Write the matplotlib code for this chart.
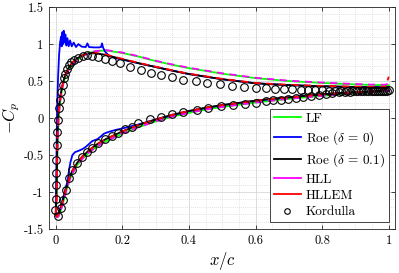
import numpy as np
import matplotlib
matplotlib.use("Agg")
import matplotlib.pyplot as plt
from matplotlib.lines import Line2D
from matplotlib.ticker import MultipleLocator

plt.rcParams['mathtext.fontset'] = 'cm'
plt.rcParams['font.family'] = 'serif'
plt.rcParams['font.serif'] = ['cmr10', 'DejaVu Serif']
plt.rcParams['axes.unicode_minus'] = False

# ---- data (x/c, -Cp) ----
# upper surface, numerical solutions
x_up = [0.0, 0.002, 0.004, 0.005, 0.007, 0.010, 0.014, 0.018, 0.023, 0.030,
        0.040, 0.050, 0.065, 0.080, 0.100, 0.120, 0.150, 0.200, 0.250, 0.300,
        0.350, 0.400, 0.500, 0.600, 0.700, 0.800, 0.900, 0.950, 0.990, 1.000]
lf_up = [-1.30, -1.15, -0.75, -0.45, -0.15, 0.08, 0.24, 0.36, 0.47, 0.57,
         0.66, 0.72, 0.79, 0.84, 0.88, 0.905, 0.915, 0.88, 0.83, 0.77,
         0.72, 0.675, 0.60, 0.54, 0.50, 0.475, 0.455, 0.448, 0.445, 0.445]
hll_up = [-1.30, -1.15, -0.75, -0.45, -0.15, 0.08, 0.24, 0.36, 0.47, 0.57,
          0.66, 0.72, 0.79, 0.84, 0.88, 0.905, 0.92, 0.885, 0.835, 0.775,
          0.725, 0.68, 0.605, 0.545, 0.505, 0.48, 0.46, 0.452, 0.45, 0.47]
roe1_up = [-1.30, -1.10, -0.60, -0.25, 0.0, 0.16, 0.30, 0.40, 0.50, 0.60,
           0.69, 0.75, 0.81, 0.85, 0.875, 0.875, 0.855, 0.795, 0.74, 0.69,
           0.64, 0.595, 0.525, 0.47, 0.445, 0.43, 0.42, 0.415, 0.415, 0.42]
hllem_up = [-1.30, -1.10, -0.60, -0.25, 0.0, 0.16, 0.30, 0.40, 0.50, 0.60,
            0.69, 0.75, 0.81, 0.85, 0.88, 0.88, 0.86, 0.80, 0.745, 0.695,
            0.645, 0.60, 0.53, 0.475, 0.45, 0.435, 0.425, 0.42, 0.42, 0.56]

# Roe (delta = 0) has wiggles near the leading edge
x_roe0_up = [0.0, 0.002, 0.004, 0.007, 0.010, 0.013, 0.016, 0.018, 0.020, 0.022,
             0.024, 0.026, 0.029, 0.032, 0.035, 0.039, 0.043, 0.048, 0.054, 0.061,
             0.068, 0.078, 0.090, 0.095, 0.100, 0.115, 0.130, 0.136, 0.139, 0.142,
             0.148, 0.160, 0.180, 0.200, 0.250, 0.300, 0.400, 0.500, 0.600, 0.700,
             0.800, 0.900, 1.000]
roe0_up = [-1.30, -0.60, 0.10, 0.55, 0.85, 1.02, 1.10, 0.97, 1.16, 1.00,
           1.18, 1.02, 1.13, 0.98, 1.08, 0.97, 1.05, 0.97, 1.02, 0.96,
           1.00, 0.965, 0.96, 1.01, 0.96, 0.955, 0.955, 0.96, 1.01, 0.955,
           0.90, 0.84, 0.81, 0.79, 0.74, 0.69, 0.595, 0.525, 0.47, 0.445,
           0.43, 0.42, 0.42]

# lower surface, numerical solutions
x_lo = [0.0, 0.003, 0.008, 0.015, 0.022, 0.030, 0.040, 0.050, 0.065, 0.080,
        0.100, 0.125, 0.150, 0.200, 0.250, 0.300, 0.350, 0.400, 0.450, 0.500,
        0.550, 0.600, 0.650, 0.700, 0.750, 0.800, 0.850, 0.900, 0.950, 1.000]
lf_lo = [-1.30, -1.34, -1.33, -1.25, -1.15, -1.01, -0.86, -0.75, -0.63, -0.55,
         -0.465, -0.38, -0.315, -0.21, -0.12, -0.045, 0.02, 0.07, 0.115, 0.15,
         0.18, 0.21, 0.235, 0.26, 0.28, 0.30, 0.32, 0.335, 0.35, 0.365]
hll_lo = [-1.30, -1.34, -1.33, -1.25, -1.15, -1.01, -0.86, -0.75, -0.63, -0.55,
          -0.465, -0.38, -0.315, -0.21, -0.12, -0.045, 0.02, 0.07, 0.115, 0.15,
          0.18, 0.21, 0.235, 0.26, 0.28, 0.30, 0.32, 0.335, 0.35, 0.37]
roe1_lo = [-1.30, -1.33, -1.30, -1.21, -1.10, -0.97, -0.82, -0.71, -0.60, -0.52,
           -0.435, -0.35, -0.285, -0.18, -0.09, -0.02, 0.045, 0.095, 0.14, 0.175,
           0.205, 0.235, 0.26, 0.28, 0.30, 0.32, 0.335, 0.35, 0.36, 0.37]
hllem_lo = [-1.30, -1.33, -1.30, -1.21, -1.10, -0.97, -0.82, -0.71, -0.60, -0.52,
            -0.435, -0.35, -0.285, -0.18, -0.09, -0.02, 0.045, 0.095, 0.14, 0.175,
            0.205, 0.235, 0.26, 0.28, 0.30, 0.32, 0.335, 0.35, 0.36, 0.40]
x_roe0_lo = [0.0, 0.003, 0.008, 0.015, 0.022, 0.030, 0.036, 0.040, 0.044, 0.050,
             0.058, 0.070, 0.080, 0.090, 0.100, 0.110, 0.125, 0.135, 0.145, 0.160,
             0.180, 0.200, 0.250, 0.300, 0.400, 0.500, 0.600, 0.700, 0.800, 0.900,
             1.000]
roe0_lo = [-1.30, -1.33, -1.30, -1.20, -1.08, -0.94, -0.84, -0.70, -0.60, -0.50,
           -0.46, -0.44, -0.42, -0.39, -0.35, -0.31, -0.285, -0.25, -0.21, -0.185,
           -0.16, -0.14, -0.085, -0.02, 0.095, 0.175, 0.235, 0.28, 0.32, 0.35,
           0.37]

# Kordulla reference data
kx = [-0.003, 0.001, 0.001, 0.001, 0.001, 0.004, 0.005, 0.007, 0.010, 0.014,
      0.017, 0.021, 0.025, 0.029, 0.034, 0.039, 0.046, 0.056, 0.068, 0.081,
      0.095, 0.110, 0.128, 0.147, 0.168, 0.193, 0.222, 0.255, 0.285, 0.315,
      0.350, 0.383, 0.420, 0.455, 0.493, 0.530, 0.565, 0.600, 0.630, 0.658,
      0.685, 0.710, 0.735, 0.758, 0.780, 0.800, 0.820, 0.840, 0.858, 0.875,
      0.892, 0.908, 0.923, 0.938, 0.952, 0.965, 0.977, 0.989, 1.000,
      0.008, 0.016, 0.023, 0.030, 0.040, 0.050, 0.063, 0.078, 0.093, 0.108,
      0.128, 0.148, 0.168, 0.188, 0.208, 0.228, 0.248, 0.283, 0.315, 0.350,
      0.383, 0.423, 0.458, 0.496, 0.533, 0.568, 0.601, 0.630, 0.653, 0.675,
      0.698, 0.721, 0.743, 0.768, 0.791, 0.811, 0.831, 0.850, 0.868, 0.885,
      0.902, 0.918, 0.933, 0.947, 0.960, 0.972, 0.984, 0.995]
ky = [-1.24, -1.09, -0.91, -0.74, -0.56, -0.36, -0.19, -0.03, 0.13, 0.25,
      0.35, 0.45, 0.54, 0.60, 0.665, 0.715, 0.755, 0.79, 0.81, 0.835,
      0.848, 0.845, 0.825, 0.80, 0.775, 0.74, 0.695, 0.65, 0.615, 0.58,
      0.55, 0.52, 0.495, 0.47, 0.455, 0.432, 0.42, 0.41, 0.403, 0.397,
      0.392, 0.387, 0.382, 0.378, 0.375, 0.373, 0.371, 0.369, 0.368, 0.367,
      0.366, 0.366, 0.366, 0.367, 0.368, 0.369, 0.37, 0.372, 0.375,
      -1.32, -1.22, -1.11, -0.973, -0.815, -0.703, -0.604, -0.523, -0.455, -0.401,
      -0.342, -0.288, -0.243, -0.199, -0.153, -0.117, -0.072, -0.014, 0.018, 0.054,
      0.085, 0.112, 0.135, 0.158, 0.176, 0.192, 0.208, 0.225, 0.24, 0.25,
      0.257, 0.266, 0.28, 0.297, 0.318, 0.332, 0.345, 0.35, 0.354, 0.357,
      0.36, 0.362, 0.364, 0.365, 0.366, 0.367, 0.368, 0.37]

fig = plt.figure(figsize=(3.99, 2.73), dpi=100)
ax = fig.add_axes([0.123, 0.161, 0.868, 0.813])

lw = 1.3
ax.plot(x_up, lf_up, color='#00ff00', lw=lw)
ax.plot(x_lo, lf_lo, color='#00ff00', lw=lw)
ax.plot(x_roe0_up, roe0_up, color='#0000ff', lw=lw)
ax.plot(x_roe0_lo, roe0_lo, color='#0000ff', lw=lw)
ax.plot(x_up, roe1_up, color='k', lw=lw)
ax.plot(x_lo, roe1_lo, color='k', lw=lw)
ax.plot(x_up, hll_up, color='#ff00ff', lw=lw, dashes=(4, 3))
ax.plot(x_lo, hll_lo, color='#ff00ff', lw=lw, dashes=(4, 3))
ax.plot(x_up, hllem_up, color='#ff0000', lw=lw, dashes=(4, 3))
ax.plot(x_lo, hllem_lo, color='#ff0000', lw=lw, dashes=(4, 3))
ax.plot(kx, ky, 'o', mfc='none', mec='k', ms=5.5, mew=0.8, ls='none')

ax.set_xlim(-0.02, 1.02)
ax.set_ylim(-1.5, 1.5)
ax.set_xticks([0, 0.2, 0.4, 0.6, 0.8, 1.0])
ax.set_xticklabels(['0', '0.2', '0.4', '0.6', '0.8', '1'])
ax.set_yticks([-1.5, -1, -0.5, 0, 0.5, 1, 1.5])
ax.set_yticklabels(['-1.5', '-1', '-0.5', '0', '0.5', '1', '1.5'])
ax.xaxis.set_minor_locator(MultipleLocator(0.05))
ax.yaxis.set_minor_locator(MultipleLocator(0.1))
ax.grid(True, which='major', color='#d8d8d8', lw=0.6)
ax.grid(True, which='minor', color='#c8c8c8', lw=0.5, ls=(0, (1, 2)))
ax.set_axisbelow(True)
ax.tick_params(which='major', direction='in', length=3, width=0.6,
               top=True, right=True, labelsize=9, color='#262626', pad=4)
ax.tick_params(which='minor', length=0)
for s in ax.spines.values():
    s.set_color('#262626')
    s.set_linewidth(0.6)

ax.set_xlabel(r'$x/c$', fontsize=12, labelpad=2)
ax.set_ylabel(r'$-C_p$', fontsize=12, labelpad=1)

handles = [Line2D([], [], color='#00ff00', lw=lw),
           Line2D([], [], color='#0000ff', lw=lw),
           Line2D([], [], color='k', lw=lw),
           Line2D([], [], color='#ff00ff', lw=lw),
           Line2D([], [], color='#ff0000', lw=lw),
           Line2D([], [], marker='o', mfc='none', mec='k', ms=4, mew=0.8, ls='none')]
labels = ['LF', r'Roe ($\delta\,=\,0$)', r'Roe ($\delta\,=\,0.1$)', 'HLL', 'HLLEM', 'Kordulla']
leg = ax.legend(handles, labels, loc='lower right', fontsize=9.5, fancybox=False,
                framealpha=1, edgecolor='#262626', handlelength=2.0,
                handletextpad=0.4, labelspacing=0.32, borderpad=0.3,
                borderaxespad=0.5)
leg.get_frame().set_linewidth(0.6)

fig.savefig('out.png', dpi=100)
